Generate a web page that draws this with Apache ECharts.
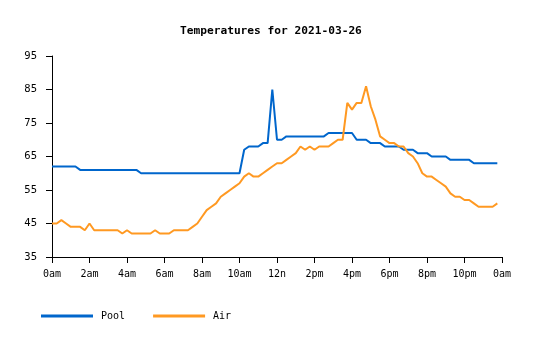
<!DOCTYPE html>
<html>
<head>
<meta charset="utf-8">
<script src="https://cdn.jsdelivr.net/npm/echarts@6/dist/echarts.min.js"></script>
<style>html,body{margin:0;padding:0;background:#fff}#c{width:535px;height:340px}</style>
</head>
<body>
<div id="c"></div>
<script>
// Times in hours (15-minute samples)
const hours = [];
for (let i = 0; i < 96; i++) hours.push(i * 0.25);

const pool = [
  62,62,62,62,62,62,61,61,61,61,61,61,61,61,61,61,61,61,61,60,
  60,60,60,60,60,60,60,60,60,60,60,60,60,60,60,60,60,60,60,60,
  60,67,68,68,68,69,69,85,70,70,71,71,71,71,71,71,71,71,71,72,
  72,72,72,72,72,70,70,70,69,69,69,68,68,68,68,67,67,67,66,66,
  66,65,65,65,65,64,64,64,64,64,63,63,63,63,63,63
];
const air = [
  45,45,46,45,44,44,44,43,45,43,43,43,43,43,43,42,43,42,42,42,
  42,42,43,42,42,42,43,43,43,43,44,45,47,49,50,51,53,54,55,56,
  57,59,60,59,59,60,61,62,63,63,64,65,66,68,67,68,67,68,68,68,
  69,70,70,81,79,81,81,86,80,76,71,70,69,69,68,68,66,65,63,60,
  59,59,58,57,56,54,53,53,52,52,51,50,50,50,50,51
];
const tickHours = [0,2,4,6,8,10,12,14,16,18,20,22,24];
const tickLabels = ['0am','2am','4am','6am','8am','10am','12n','2pm','4pm','6pm','8pm','10pm','0am'];
const seriesNames = ['Pool', 'Air'];
const titleText = 'Temperatures for 2021-03-26';

const FONT = 'DejaVu Sans Mono';
const chart = echarts.init(document.getElementById('c'), null, {renderer: 'canvas'});
const labelFor = v => { const k = tickHours.indexOf(v); return k >= 0 ? tickLabels[k] : ''; };
chart.setOption({
  animation: false,
  backgroundColor: '#ffffff',
  title: {
    text: titleText, left: 175, top: 21,
    textStyle: {fontFamily: FONT, fontSize: 11.2, fontWeight: 'bold', color: '#000'}
  },
  legend: {
    left: 36, top: 306, itemWidth: 52, itemHeight: 3, itemGap: 28, icon: 'rect',
    textStyle: {fontFamily: FONT, fontSize: 10, color: '#000', padding: [0,0,0,3]},
    data: seriesNames
  },
  grid: {left: 52, right: 33, top: 56, bottom: 83, containLabel: false},
  xAxis: {
    type: 'value', min: 0, max: 24, interval: 2,
    axisLine: {lineStyle: {color: '#000', width: 1}},
    axisTick: {show: true, length: 6, lineStyle: {color: '#000'}},
    axisLabel: {formatter: labelFor, fontFamily: FONT, fontSize: 10, color: '#000', margin: 12},
    splitLine: {show: false}
  },
  yAxis: {
    type: 'value', min: 35, max: 95, interval: 10,
    axisLine: {show: true, lineStyle: {color: '#000', width: 1}},
    axisTick: {show: true, length: 6, lineStyle: {color: '#000'}},
    axisLabel: {fontFamily: FONT, fontSize: 10.5, color: '#000', margin: 15},
    splitLine: {show: false}
  },
  series: [
    {name: seriesNames[0], type: 'line', showSymbol: false, symbol: 'none',
     color: '#0066cc', lineStyle: {width: 2, color: '#0066cc'},
     data: hours.map((h, i) => [h, pool[i]])},
    {name: seriesNames[1], type: 'line', showSymbol: false, symbol: 'none',
     color: '#ff9922', lineStyle: {width: 2, color: '#ff9922'},
     data: hours.map((h, i) => [h, air[i]])}
  ]
});
</script>
</body>
</html>
